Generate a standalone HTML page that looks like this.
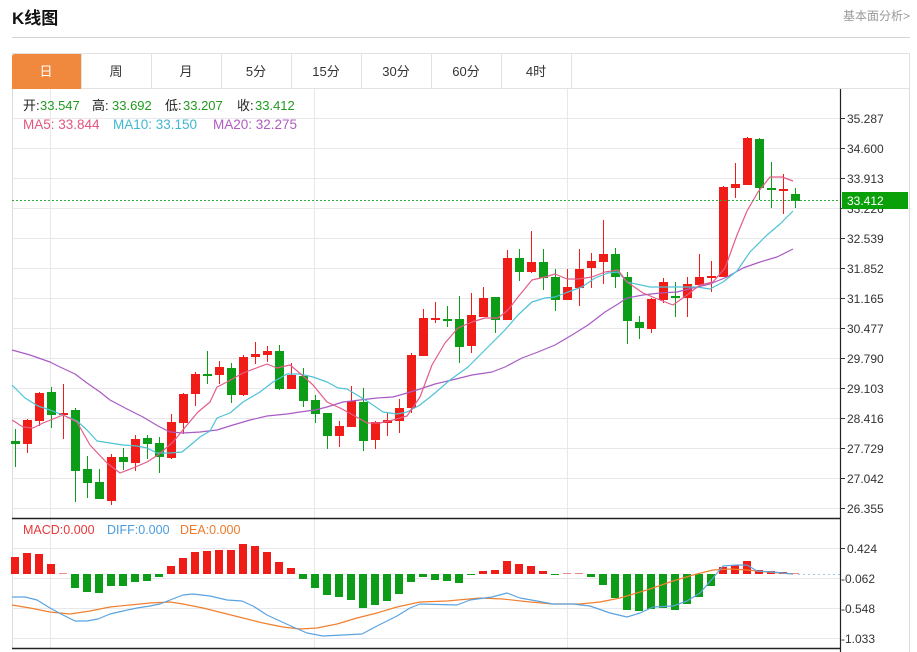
<!DOCTYPE html>
<html><head><meta charset="utf-8"><style>
html,body{margin:0;padding:0;background:#fff;}
svg{display:block;font-family:"Liberation Sans","Noto Sans CJK SC",sans-serif;}
</style></head><body>
<svg width="917" height="652" viewBox="0 0 917 652" xmlns="http://www.w3.org/2000/svg">
<rect width="917" height="652" fill="#fff"/>
<!-- header -->
<text x="12" y="24" font-size="17" font-weight="bold" fill="#111">K线图</text>
<text x="910" y="20" font-size="12" fill="#999" text-anchor="end">基本面分析&gt;</text>
<line x1="12" y1="37.5" x2="910" y2="37.5" stroke="#d4d4d4"/>
<!-- tabs -->
<rect x="12.5" y="53.5" width="897" height="35" fill="#fff" stroke="#e2e2e2"/>
<path d="M12 89 V57 Q12 54 15 54 H81 V89 Z" fill="#f0883e"/>
<g stroke="#e2e2e2">
<line x1="81.5" y1="54" x2="81.5" y2="89"/><line x1="151.5" y1="54" x2="151.5" y2="89"/>
<line x1="221.5" y1="54" x2="221.5" y2="89"/><line x1="291.5" y1="54" x2="291.5" y2="89"/>
<line x1="361.5" y1="54" x2="361.5" y2="89"/><line x1="431.5" y1="54" x2="431.5" y2="89"/>
<line x1="501.5" y1="54" x2="501.5" y2="89"/><line x1="571.5" y1="54" x2="571.5" y2="89"/>
</g>
<g font-size="13" text-anchor="middle" fill="#333">
<text x="46" y="76" fill="#fff">日</text><text x="116" y="76">周</text><text x="186" y="76">月</text>
<text x="256" y="76">5分</text><text x="326" y="76">15分</text><text x="396" y="76">30分</text>
<text x="466" y="76">60分</text><text x="536" y="76">4时</text>
</g>
<!-- chart frame -->
<line x1="12.5" y1="89" x2="12.5" y2="648" stroke="#dcdcdc"/>
<line x1="909.5" y1="89" x2="909.5" y2="652" stroke="#dcdcdc"/>
<!-- grid -->
<g stroke="#e8e8ec" stroke-width="1">
<line x1="12" y1="118.5" x2="840" y2="118.5"/><line x1="12" y1="148.5" x2="840" y2="148.5"/>
<line x1="12" y1="178.5" x2="840" y2="178.5"/><line x1="12" y1="208.5" x2="840" y2="208.5"/>
<line x1="12" y1="238.5" x2="840" y2="238.5"/><line x1="12" y1="268.5" x2="840" y2="268.5"/>
<line x1="12" y1="298.5" x2="840" y2="298.5"/><line x1="12" y1="328.5" x2="840" y2="328.5"/>
<line x1="12" y1="358.5" x2="840" y2="358.5"/><line x1="12" y1="388.5" x2="840" y2="388.5"/>
<line x1="12" y1="418.5" x2="840" y2="418.5"/><line x1="12" y1="448.5" x2="840" y2="448.5"/>
<line x1="12" y1="478.5" x2="840" y2="478.5"/><line x1="12" y1="508.5" x2="840" y2="508.5"/>
<line x1="12" y1="548.5" x2="840" y2="548.5"/><line x1="12" y1="578.5" x2="840" y2="578.5"/>
<line x1="12" y1="608.5" x2="840" y2="608.5"/><line x1="12" y1="638.5" x2="840" y2="638.5"/>
<line x1="50.5" y1="89" x2="50.5" y2="648"/><line x1="314.5" y1="89" x2="314.5" y2="648"/>
<line x1="567.5" y1="89" x2="567.5" y2="648"/>
</g>
<!-- legend -->
<g font-size="13">
<text x="23" y="110" fill="#222">开:</text><text x="40" y="110" fill="#1f9a1f">33.547</text>
<text x="92" y="110" fill="#222">高:</text><text x="112" y="110" fill="#1f9a1f">33.692</text>
<text x="165" y="110" fill="#222">低:</text><text x="183" y="110" fill="#1f9a1f">33.207</text>
<text x="237" y="110" fill="#222">收:</text><text x="255" y="110" fill="#1f9a1f">33.412</text>
<text x="23" y="129" fill="#e2577f" font-size="13.5">MA5: 33.844</text>
<text x="113" y="129" fill="#3fb8cf" font-size="13.5">MA10: 33.150</text>
<text x="213" y="129" fill="#b05cc0" font-size="13.5">MA20: 32.275</text>
</g>
<!-- candles -->
<g fill="#0c9c18">
<rect x="15" y="429" width="1" height="38"/><rect x="11" y="441" width="9" height="3"/>
<rect x="51" y="387" width="1" height="41"/><rect x="47" y="392" width="9" height="23"/>
<rect x="75" y="408" width="1" height="94"/><rect x="71" y="410" width="9" height="61"/>
<rect x="87" y="456" width="1" height="42"/><rect x="83" y="469" width="9" height="14"/>
<rect x="99" y="469" width="1" height="30"/><rect x="95" y="482" width="9" height="17"/>
<rect x="123" y="448" width="1" height="22"/><rect x="119" y="457" width="9" height="5"/>
<rect x="147" y="435" width="1" height="24"/><rect x="143" y="438" width="9" height="6"/>
<rect x="159" y="437" width="1" height="36"/><rect x="155" y="443" width="9" height="14"/>
<rect x="207" y="351" width="1" height="33"/><rect x="203" y="374" width="9" height="2"/>
<rect x="231" y="363" width="1" height="40"/><rect x="227" y="368" width="9" height="27"/>
<rect x="279" y="345" width="1" height="45"/><rect x="275" y="351" width="9" height="38"/>
<rect x="303" y="368" width="1" height="39"/><rect x="299" y="376" width="9" height="25"/>
<rect x="315" y="395" width="1" height="28"/><rect x="311" y="400" width="9" height="14"/>
<rect x="327" y="413" width="1" height="36"/><rect x="323" y="413" width="9" height="23"/>
<rect x="363" y="388" width="1" height="63"/><rect x="359" y="402" width="9" height="39"/>
<rect x="447" y="306" width="1" height="21"/><rect x="443" y="319" width="9" height="2"/>
<rect x="459" y="296" width="1" height="67"/><rect x="455" y="319" width="9" height="28"/>
<rect x="495" y="297" width="1" height="36"/><rect x="491" y="297" width="9" height="23"/>
<rect x="519" y="249" width="1" height="32"/><rect x="515" y="258" width="9" height="14"/>
<rect x="543" y="249" width="1" height="41"/><rect x="539" y="262" width="9" height="16"/>
<rect x="555" y="269" width="1" height="42"/><rect x="551" y="277" width="9" height="23"/>
<rect x="615" y="248" width="1" height="40"/><rect x="611" y="254" width="9" height="23"/>
<rect x="627" y="272" width="1" height="72"/><rect x="623" y="277" width="9" height="44"/>
<rect x="639" y="316" width="1" height="23"/><rect x="635" y="322" width="9" height="6"/>
<rect x="675" y="282" width="1" height="35"/><rect x="671" y="296" width="9" height="2"/>
<rect x="759" y="138" width="1" height="62"/><rect x="755" y="139" width="9" height="49"/>
<rect x="771" y="162" width="1" height="46"/><rect x="767" y="188" width="9" height="2"/>
<rect x="795" y="188" width="1" height="20"/><rect x="791" y="194" width="9" height="7"/>
</g>
<g fill="#f01c17">
<rect x="27" y="419" width="1" height="34"/><rect x="23" y="420" width="9" height="24"/>
<rect x="39" y="392" width="1" height="34"/><rect x="35" y="393" width="9" height="28"/>
<rect x="63" y="384" width="1" height="55"/><rect x="59" y="413" width="9" height="2"/>
<rect x="111" y="454" width="1" height="51"/><rect x="107" y="457" width="9" height="44"/>
<rect x="135" y="435" width="1" height="36"/><rect x="131" y="439" width="9" height="24"/>
<rect x="171" y="414" width="1" height="45"/><rect x="167" y="422" width="9" height="36"/>
<rect x="183" y="393" width="1" height="41"/><rect x="179" y="394" width="9" height="29"/>
<rect x="195" y="372" width="1" height="34"/><rect x="191" y="374" width="9" height="20"/>
<rect x="219" y="361" width="1" height="23"/><rect x="215" y="367" width="9" height="8"/>
<rect x="243" y="355" width="1" height="41"/><rect x="239" y="357" width="9" height="38"/>
<rect x="255" y="342" width="1" height="22"/><rect x="251" y="354" width="9" height="3"/>
<rect x="267" y="346" width="1" height="16"/><rect x="263" y="351" width="9" height="4"/>
<rect x="291" y="363" width="1" height="26"/><rect x="287" y="375" width="9" height="14"/>
<rect x="339" y="421" width="1" height="26"/><rect x="335" y="426" width="9" height="10"/>
<rect x="351" y="386" width="1" height="41"/><rect x="347" y="401" width="9" height="26"/>
<rect x="375" y="421" width="1" height="28"/><rect x="371" y="422" width="9" height="18"/>
<rect x="387" y="413" width="1" height="23"/><rect x="383" y="420" width="9" height="3"/>
<rect x="399" y="399" width="1" height="34"/><rect x="395" y="408" width="9" height="13"/>
<rect x="411" y="353" width="1" height="60"/><rect x="407" y="355" width="9" height="53"/>
<rect x="423" y="309" width="1" height="47"/><rect x="419" y="318" width="9" height="38"/>
<rect x="435" y="302" width="1" height="21"/><rect x="431" y="318" width="9" height="2"/>
<rect x="471" y="293" width="1" height="60"/><rect x="467" y="315" width="9" height="31"/>
<rect x="483" y="287" width="1" height="30"/><rect x="479" y="298" width="9" height="19"/>
<rect x="507" y="250" width="1" height="70"/><rect x="503" y="258" width="9" height="62"/>
<rect x="531" y="231" width="1" height="42"/><rect x="527" y="262" width="9" height="10"/>
<rect x="567" y="269" width="1" height="31"/><rect x="563" y="287" width="9" height="13"/>
<rect x="579" y="249" width="1" height="57"/><rect x="575" y="269" width="9" height="19"/>
<rect x="591" y="253" width="1" height="35"/><rect x="587" y="261" width="9" height="7"/>
<rect x="603" y="220" width="1" height="64"/><rect x="599" y="254" width="9" height="8"/>
<rect x="651" y="298" width="1" height="35"/><rect x="647" y="299" width="9" height="30"/>
<rect x="663" y="278" width="1" height="25"/><rect x="659" y="282" width="9" height="18"/>
<rect x="687" y="277" width="1" height="40"/><rect x="683" y="284" width="9" height="14"/>
<rect x="699" y="254" width="1" height="31"/><rect x="695" y="277" width="9" height="8"/>
<rect x="711" y="261" width="1" height="31"/><rect x="707" y="276" width="9" height="2"/>
<rect x="723" y="186" width="1" height="91"/><rect x="719" y="187" width="9" height="90"/>
<rect x="735" y="163" width="1" height="35"/><rect x="731" y="184" width="9" height="4"/>
<rect x="747" y="137" width="1" height="48"/><rect x="743" y="138" width="9" height="47"/>
<rect x="783" y="174" width="1" height="40"/><rect x="779" y="189" width="9" height="2"/>
</g>
<!-- MA lines -->
<g fill="none" stroke-width="1.2" stroke-linejoin="round">
<polyline stroke="#a95bc4" points="12,350 30,355 50,362 60,367 75,374 87,383 100,392 110,400 127,409 143,417 158,426 170,432 183,433 200,432 217,430 233,425 250,420 267,416 287,414 300,412 315,410 327,407 343,402 360,400 377,398 393,397 407,393 420,389 435,384 452,380 472,375 492,372 505,367 522,358 538,352 555,345 572,335 588,325 605,312 618,304 627,298 643,295 660,293 677,292 693,288 710,284 727,277 743,268 760,262 777,257 793,249"/>
<polyline stroke="#4cc3d6" points="12,385 25,398 38,406 50,410 63,415 77,421 87,430 97,441 110,443 123,445 137,446 147,448 157,453 170,453 182,452 193,443 200,437 210,431 217,418 230,413 243,402 260,392 273,382 287,374 300,374 313,377 327,382 338,388 347,389 357,395 370,403 383,412 397,414 407,412 420,405 435,393 450,380 468,367 492,343 505,330 518,315 532,302 545,298 555,297 568,292 582,287 595,278 608,273 618,272 627,282 650,287 677,287 697,287 710,289 723,282 737,271 750,252 767,235 780,224 793,211"/>
<polyline stroke="#e55b8a" points="12,420 23,427 33,428 43,423 63,415 77,422 90,445 107,463 120,473 133,468 147,462 158,455 173,442 187,425 198,412 210,402 217,387 227,382 243,373 267,364 277,368 290,365 302,375 313,385 327,402 340,408 353,415 367,423 380,423 393,420 407,416 420,397 432,365 445,343 458,328 472,322 485,318 498,318 508,310 518,297 532,280 545,277 555,274 567,279 578,279 592,277 605,272 618,270 627,282 643,293 660,300 673,305 687,295 700,285 713,282 725,268 737,235 747,211 758,192 770,177 782,177 793,181"/>
</g>
<!-- current price line -->
<line x1="12" y1="200.5" x2="840" y2="200.5" stroke="#2fae3a" stroke-dasharray="2,2"/>
<!-- MACD bars -->
<g fill="#f01c17">
<rect x="11" y="557" width="8" height="17"/><rect x="23" y="553" width="8" height="21"/>
<rect x="35" y="554" width="8" height="20"/><rect x="47" y="564" width="8" height="10"/>
<rect x="167" y="566" width="8" height="8"/><rect x="179" y="558" width="8" height="16"/>
<rect x="191" y="552" width="8" height="22"/><rect x="203" y="551" width="8" height="23"/>
<rect x="215" y="550" width="8" height="24"/><rect x="227" y="550" width="8" height="24"/>
<rect x="239" y="544" width="8" height="30"/><rect x="251" y="546" width="8" height="28"/>
<rect x="263" y="552" width="8" height="22"/><rect x="275" y="562" width="8" height="12"/>
<rect x="287" y="568" width="8" height="6"/>
<rect x="479" y="571" width="8" height="3"/><rect x="491" y="570" width="8" height="4"/>
<rect x="503" y="561" width="8" height="13"/><rect x="515" y="564" width="8" height="10"/>
<rect x="527" y="566" width="8" height="8"/><rect x="539" y="571" width="8" height="3"/>
<rect x="719" y="567" width="8" height="7"/><rect x="731" y="565" width="8" height="9"/>
<rect x="743" y="561" width="8" height="13"/><rect x="755" y="570" width="8" height="4"/>
<rect x="767" y="571" width="8" height="3"/><rect x="779" y="572" width="8" height="2"/>
</g>
<g fill="#f08a8a">
<rect x="59" y="573" width="8" height="1"/><rect x="563" y="573" width="8" height="1"/>
<rect x="575" y="573" width="8" height="1"/><rect x="791" y="573" width="8" height="1"/>
</g>
<g fill="#0c9c18">
<rect x="71" y="574" width="8" height="14"/><rect x="83" y="574" width="8" height="18"/>
<rect x="95" y="574" width="8" height="19"/><rect x="107" y="574" width="8" height="12"/>
<rect x="119" y="574" width="8" height="12"/><rect x="131" y="574" width="8" height="8"/>
<rect x="143" y="574" width="8" height="7"/><rect x="155" y="574" width="8" height="3"/>
<rect x="299" y="574" width="8" height="5"/><rect x="311" y="574" width="8" height="14"/>
<rect x="323" y="574" width="8" height="21"/><rect x="335" y="574" width="8" height="23"/>
<rect x="347" y="574" width="8" height="26"/><rect x="359" y="574" width="8" height="34"/>
<rect x="371" y="574" width="8" height="31"/><rect x="383" y="574" width="8" height="27"/>
<rect x="395" y="574" width="8" height="20"/><rect x="407" y="574" width="8" height="8"/>
<rect x="419" y="574" width="8" height="3"/><rect x="431" y="574" width="8" height="6"/>
<rect x="443" y="574" width="8" height="7"/><rect x="455" y="574" width="8" height="9"/>
<rect x="467" y="574" width="8" height="1"/><rect x="551" y="574" width="8" height="1"/>
<rect x="587" y="574" width="8" height="3"/><rect x="599" y="574" width="8" height="11"/>
<rect x="611" y="574" width="8" height="24"/><rect x="623" y="574" width="8" height="36"/>
<rect x="635" y="574" width="8" height="37"/><rect x="647" y="574" width="8" height="35"/>
<rect x="659" y="574" width="8" height="34"/><rect x="671" y="574" width="8" height="36"/>
<rect x="683" y="574" width="8" height="30"/><rect x="695" y="574" width="8" height="23"/>
<rect x="707" y="574" width="8" height="12"/>
</g>
<line x1="798" y1="574.5" x2="840" y2="574.5" stroke="#9cc6ea" stroke-dasharray="2,3"/>
<g fill="none" stroke-width="1.2" stroke-linejoin="round">
<polyline stroke="#f08030" points="12,605 30,608 50,612 70,614 90,611 110,607 130,605 150,603 170,602 183,604 203,608 223,613 243,618 263,623 283,627 300,629 317,628 337,624 357,618 377,613 397,607 420,602 447,601 480,598 503,599 530,602 553,604 580,604 600,602 620,598 647,590 673,581 693,575 713,570 730,569 747,570 767,572 793,574"/>
<polyline stroke="#5ba3e0" points="12,597 25,597 37,600 50,608 63,615 75,621 87,621 98,619 110,614 123,611 137,608 150,606 160,604 170,600 183,595 193,594 210,596 227,600 242,601 253,606 267,615 280,621 293,627 307,633 323,636 343,635 362,634 377,626 397,616 410,608 420,604 457,605 470,600 492,597 507,593 520,598 537,601 553,604 573,604 590,606 610,613 627,617 640,613 653,607 673,606 687,601 700,593 713,578 723,566 737,565 747,565 757,571 773,572 793,574"/>
</g>
<!-- MACD legend -->
<g font-size="12.5">
<text x="23" y="534" fill="#e8383a">MACD:0.000</text>
<text x="107" y="534" fill="#4a9be0">DIFF:0.000</text>
<text x="180" y="534" fill="#f07a2a">DEA:0.000</text>
</g>
<!-- panel separators -->
<line x1="12" y1="518.5" x2="841" y2="518.5" stroke="#222" stroke-width="1.5"/>
<line x1="12" y1="648.5" x2="841" y2="648.5" stroke="#222" stroke-width="1.5"/>
<line x1="840.5" y1="89" x2="840.5" y2="652" stroke="#222" stroke-width="1.2"/>
<!-- axis ticks -->
<g stroke="#333">
<line x1="840" y1="118.5" x2="845" y2="118.5"/><line x1="840" y1="148.5" x2="845" y2="148.5"/>
<line x1="840" y1="178.5" x2="845" y2="178.5"/><line x1="840" y1="208.5" x2="845" y2="208.5"/>
<line x1="840" y1="238.5" x2="845" y2="238.5"/><line x1="840" y1="268.5" x2="845" y2="268.5"/>
<line x1="840" y1="298.5" x2="845" y2="298.5"/><line x1="840" y1="328.5" x2="845" y2="328.5"/>
<line x1="840" y1="358.5" x2="845" y2="358.5"/><line x1="840" y1="388.5" x2="845" y2="388.5"/>
<line x1="840" y1="418.5" x2="845" y2="418.5"/><line x1="840" y1="448.5" x2="845" y2="448.5"/>
<line x1="840" y1="478.5" x2="845" y2="478.5"/><line x1="840" y1="508.5" x2="845" y2="508.5"/>
<line x1="840" y1="548.5" x2="845" y2="548.5"/>
</g>
<g font-size="12" fill="#333">
<text x="847" y="123">35.287</text><text x="847" y="153">34.600</text>
<text x="847" y="183">33.913</text><text x="847" y="213">33.226</text>
<text x="847" y="243">32.539</text><text x="847" y="273">31.852</text>
<text x="847" y="303">31.165</text><text x="847" y="333">30.477</text>
<text x="847" y="363">29.790</text><text x="847" y="393">29.103</text>
<text x="847" y="423">28.416</text><text x="847" y="453">27.729</text>
<text x="847" y="483">27.042</text><text x="847" y="513">26.355</text>
<text x="847" y="553">0.424</text>
<text x="841" y="583">-0.062</text>
<text x="841" y="613">-0.548</text>
<text x="841" y="643">-1.033</text>
</g>
<rect x="842" y="192" width="66" height="17" fill="#0aa00a"/>
<text x="847" y="205" font-size="12" fill="#fff">33.412</text>
</svg>
</body></html>
